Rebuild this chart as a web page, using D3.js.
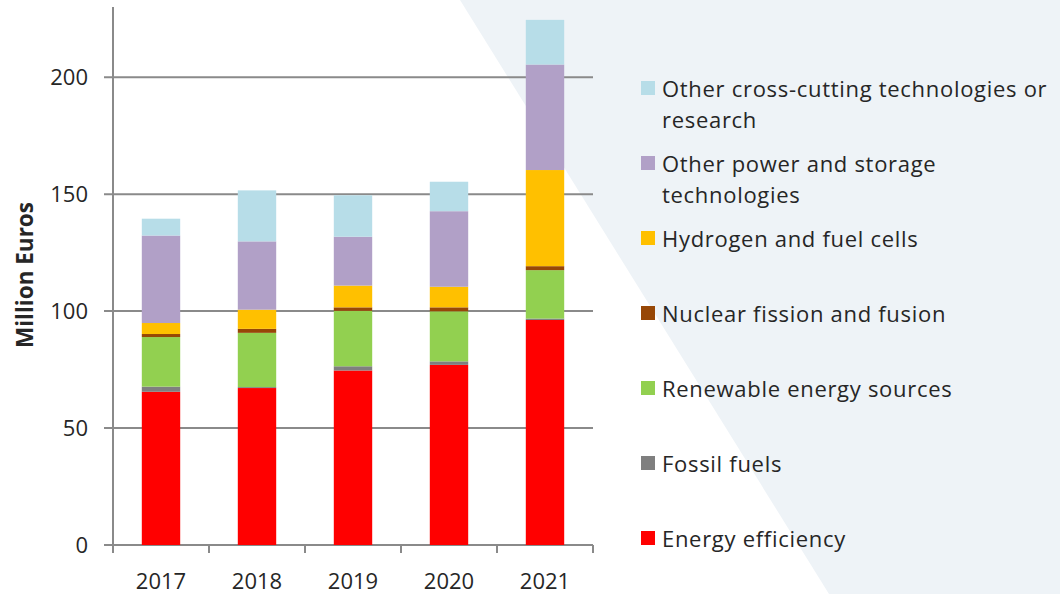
<!DOCTYPE html>
<html>
<head>
<meta charset="utf-8">
<script src="https://cdn.jsdelivr.net/npm/d3@7"></script>
<style>
body { margin: 0; background: #fff; }
text { font-family: "Open Sans", Lato, sans-serif; fill: #262626; font-variant-ligatures: none; }
</style>
</head>
<body>
<script>
var years = ["2017", "2018", "2019", "2020", "2021"];

var energyEfficiency = [65.5, 67.1, 74.6, 77.0, 96.2];
var fossilFuels = [2.2, 0.4, 1.8, 1.5, 0.6];
var renewables = [21.2, 23.2, 23.7, 21.4, 20.7];
var nuclear = [1.3, 1.7, 1.5, 1.7, 1.7];
var hydrogen = [4.7, 8.2, 9.3, 8.8, 41.1];
var otherPower = [37.4, 29.2, 20.9, 32.3, 45.1];
var crossCutting = [7.2, 21.8, 17.7, 12.6, 19.1];

var yTicks = [0, 50, 100, 150, 200];

var seriesNames = [
    "Energy efficiency",
    "Fossil fuels",
    "Renewable energy sources",
    "Nuclear fission and fusion",
    "Hydrogen and fuel cells",
    "Other power and storage technologies",
    "Other cross-cutting technologies or research"
];
var seriesValues = [energyEfficiency, fossilFuels, renewables, nuclear, hydrogen, otherPower, crossCutting];
var colors = ["#ff0000", "#7f7f7f", "#92d050", "#974706", "#ffc000", "#b1a0c7", "#b7dde8"];

// legend labels split in lines like the original
var legendLines = {
    "Other cross-cutting technologies or research": ["Other cross-cutting technologies or", "research"],
    "Other power and storage technologies": ["Other power and storage", "technologies"]
};

var width = 1060, height = 594;

var rows = years.map(function(y, i) {
    var r = {year: y};
    seriesNames.forEach(function(s, k) { r[s] = seriesValues[k][i]; });
    return r;
});

var stack = d3.stack().keys(seriesNames);
var layers = stack(rows);

var x = d3.scaleBand()
    .domain(years)
    .range([113, 593])
    .paddingInner(0.6)
    .paddingOuter(0.3);

var y = d3.scaleLinear()
    .domain([0, 230])
    .range([545, 7]);

var color = d3.scaleOrdinal().domain(seriesNames).range(colors);

var svg = d3.select("body")
    .append("svg")
    .attr("width", width)
    .attr("height", height);

// background shape on the right
svg.append("polygon")
    .attr("points", "460,0 " + width + ",0 " + width + "," + height + " 829," + height)
    .attr("fill", "#eef3f7");

// gridlines
svg.append("g")
    .selectAll("line")
    .data(yTicks)
    .enter()
    .append("line")
    .attr("x1", 104)
    .attr("x2", 593)
    .attr("y1", function(d) { return y(d); })
    .attr("y2", function(d) { return y(d); })
    .attr("stroke", "#8a8a8a")
    .attr("stroke-width", 2);

// bars
svg.append("g")
    .selectAll("g")
    .data(layers)
    .enter()
    .append("g")
    .attr("fill", function(d) { return color(d.key); })
    .selectAll("rect")
    .data(function(d) { return d; })
    .enter()
    .append("rect")
    .attr("x", function(d) { return x(d.data.year); })
    .attr("width", x.bandwidth())
    .attr("y", function(d) { return y(d[1]); })
    .attr("height", function(d) { return y(d[0]) - y(d[1]); });

// y axis line
svg.append("line")
    .attr("x1", 113).attr("x2", 113)
    .attr("y1", y(230)).attr("y2", y(0))
    .attr("stroke", "#8a8a8a")
    .attr("stroke-width", 2);

// x ticks between categories
var bounds = years.map(function(d) { return x(d) + x.bandwidth() / 2 - x.step() / 2; });
bounds.push(x.range()[1]);
svg.append("g")
    .selectAll("line")
    .data(bounds)
    .enter()
    .append("line")
    .attr("x1", function(d) { return d; })
    .attr("x2", function(d) { return d; })
    .attr("y1", y(0))
    .attr("y2", y(0) + 8)
    .attr("stroke", "#8a8a8a")
    .attr("stroke-width", 2);

// y tick labels
svg.append("g")
    .selectAll("text")
    .data(yTicks)
    .enter()
    .append("text")
    .attr("x", 88)
    .attr("y", function(d) { return y(d); })
    .attr("dy", "0.35em")
    .attr("text-anchor", "end")
    .attr("font-size", 22)
    .text(function(d) { return d; });

// x tick labels
svg.append("g")
    .selectAll("text")
    .data(years)
    .enter()
    .append("text")
    .attr("x", function(d) { return x(d) + x.bandwidth() / 2; })
    .attr("y", 581)
    .attr("dy", "0.35em")
    .attr("text-anchor", "middle")
    .attr("font-size", 22)
    .text(function(d) { return d; });

// y axis title
svg.append("text")
    .attr("transform", "translate(25,275) rotate(-90)")
    .attr("text-anchor", "middle")
    .attr("dy", "0.35em")
    .attr("font-size", 22.5)
    .attr("font-weight", "bold")
    .text("Million Euros");

// legend, top entry is the last series
var legendOrder = seriesNames.slice().reverse();
var legend = svg.append("g")
    .selectAll("g")
    .data(legendOrder)
    .enter()
    .append("g")
    .attr("transform", function(d, i) { return "translate(641," + (89 + i * 75) + ")"; });

legend.append("rect")
    .attr("x", 0)
    .attr("y", -8)
    .attr("width", 14)
    .attr("height", 14)
    .attr("fill", function(d) { return color(d); });

legend.append("text")
    .attr("x", 21)
    .attr("font-size", 22)
    .attr("letter-spacing", 0.7)
    .selectAll("tspan")
    .data(function(d) { return legendLines[d] || [d]; })
    .enter()
    .append("tspan")
    .attr("x", 21)
    .attr("y", function(d, i) { return i * 31; })
    .attr("dy", "0.35em")
    .text(function(d) { return d; });
</script>
</body>
</html>
